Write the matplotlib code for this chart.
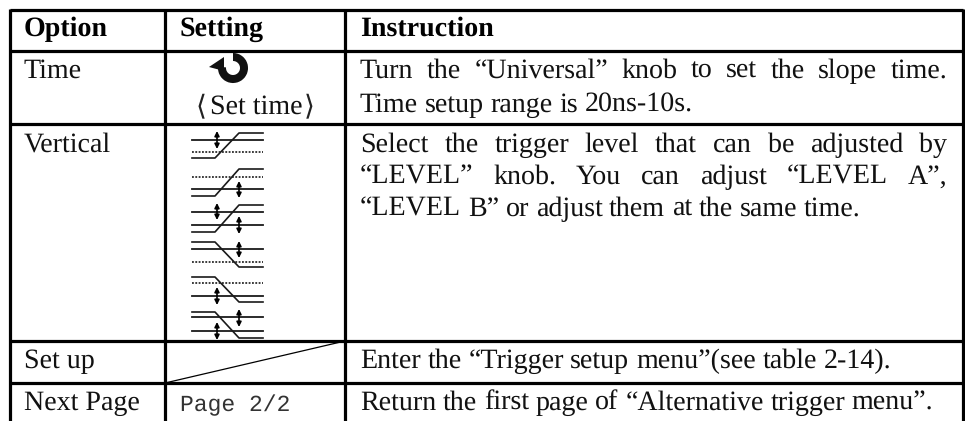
import matplotlib
matplotlib.use('Agg')
import matplotlib.pyplot as plt
from matplotlib.patches import Wedge, Polygon

plt.rcParams['text.hinting'] = 'no_hinting'
plt.rcParams['text.hinting_factor'] = 1

serif = 'Liberation Serif'
fs = 20

# table text
headers = ['Option', 'Setting', 'Instruction']
options = ['Time', 'Vertical', 'Set up', 'Next Page']
option_base = [78, 152, 368, 410]
set_time = 'Set time'
next_page_setting = 'Page 2/2'

# (text, justified?, baseline y)
instructions = [
    ('Turn the \u201cUniversal\u201d knob to set the slope time.', True, 78),
    ('Time setup range is 20ns-10s.', False, 112),
    ('Select the trigger level that can be adjusted by', True, 152),
    ('\u201cLEVEL\u201d knob. You can adjust \u201cLEVEL A\u201d,', True, 184),
    ('\u201cLEVEL B\u201d or adjust them at the same time.', False, 216),
    ('Enter the \u201cTrigger setup menu\u201d(see table 2-14).', False, 368),
    ('Return the first page of \u201cAlternative trigger menu\u201d.', False, 410),
]

# rule positions
col_x = [10, 165, 345, 963]
row_y = [10, 51, 124, 341, 383]

# trigger icons: level lines, dotted line, edge lines, arrows
icons = [
    {'solid': [140], 'dot': [152], 'lo': 158, 'hi': 133, 'rising': True, 'arrows': [(217, 131, 149)]},
    {'solid': [189], 'dot': [177], 'lo': 196, 'hi': 169, 'rising': True, 'arrows': [(239, 181, 198)]},
    {'solid': [212, 225], 'dot': [], 'lo': 232, 'hi': 205, 'rising': True, 'arrows': [(217, 203, 220), (239, 216, 234)]},
    {'solid': [249], 'dot': [262], 'lo': 267, 'hi': 242, 'rising': False, 'arrows': [(239, 241, 258)]},
    {'solid': [296], 'dot': [283], 'lo': 302, 'hi': 277, 'rising': False, 'arrows': [(217, 287, 305)]},
    {'solid': [317, 331], 'dot': [], 'lo': 338, 'hi': 312, 'rising': False, 'arrows': [(217, 322, 340), (239, 309, 327)]},
]


def put_line(ax, text, x0, x1, y, justify, **kw):
    # word by word so the line can be stretched to the column width
    rend = ax.figure.canvas.get_renderer()
    words = text.split(' ')
    pieces = [ax.text(0, y, w, va='baseline', ha='left', **kw) for w in words]
    widths = [p.get_window_extent(rend).width for p in pieces]
    space = 6.7
    if justify:
        space = (x1 - x0 - sum(widths)) / (len(words) - 1)
    x = x0
    for p, w in zip(pieces, widths):
        p.set_x(x)
        x += w + space


def draw_icon(ax, ic):
    x0, x1 = 192, 263
    a, b = 215, 239
    lc = '#1a1a1a'
    for y in ic['solid']:
        ax.plot([x0, x1], [y, y], color=lc, lw=1.3)
    for y in ic['dot']:
        ax.plot([x0, x1], [y, y], color=lc, lw=1.2, dashes=(1.1, 0.9))
    if ic['rising']:
        ax.plot([x0, a, b, x1], [ic['lo'], ic['lo'], ic['hi'], ic['hi']], color=lc, lw=1.2)
    else:
        ax.plot([x0, a, b, x1], [ic['hi'], ic['hi'], ic['lo'], ic['lo']], color=lc, lw=1.2)
    for x, y0, y1 in ic['arrows']:
        ax.annotate('', xy=(x, y0), xytext=(x, y1),
                    arrowprops=dict(arrowstyle='<|-|>', color='black', lw=1.2,
                                    mutation_scale=7, shrinkA=0, shrinkB=0))


fig = plt.figure(figsize=(9.65, 4.21), dpi=100)
ax = fig.add_axes([0, 0, 1, 1])
ax.set_xlim(0, 965)
ax.set_ylim(421, 0)
ax.axis('off')
fig.canvas.draw()

# rules
for x in col_x:
    ax.plot([x, x], [row_y[0] - 1.5, 421], color='black', lw=2.3, solid_capstyle='butt')
for y in row_y:
    ax.plot([col_x[0], col_x[-1]], [y, y], color='black', lw=2.3, solid_capstyle='butt')
ax.plot([col_x[1], col_x[2]], [row_y[4], row_y[3]], color='black', lw=0.9)

# header and first column
for x, h in zip([24, 180, 360], headers):
    ax.text(x, 36, h, family=serif, fontsize=fs, fontweight='bold', va='baseline')
for y, o in zip(option_base, options):
    ax.text(24, y, o, family=serif, fontsize=fs, va='baseline', color='#111111')

# setting column
ax.add_patch(Wedge((233, 68), 15, 270, 545, width=8, color='#111111', lw=0))
ax.add_patch(Polygon([(209, 67), (224, 57), (224, 71)], color='#111111', lw=0))
ax.text(210, 114, set_time, family=serif, fontsize=fs, va='baseline', color='#111111')
ax.text(196, 114, '\u27e8', family='DejaVu Sans', fontsize=fs, va='baseline', color='#222222')
ax.text(304, 114, '\u27e9', family='DejaVu Sans', fontsize=fs, va='baseline', color='#222222')
ax.text(180, 411, next_page_setting, family='Liberation Mono', fontsize=16.5, va='baseline', color='#333333')
for ic in icons:
    draw_icon(ax, ic)

# instruction column
for text, just, y in instructions:
    put_line(ax, text, 360, 947, y, just, family=serif, fontsize=fs, color='#111111')

fig.savefig('out.png', dpi=100)
